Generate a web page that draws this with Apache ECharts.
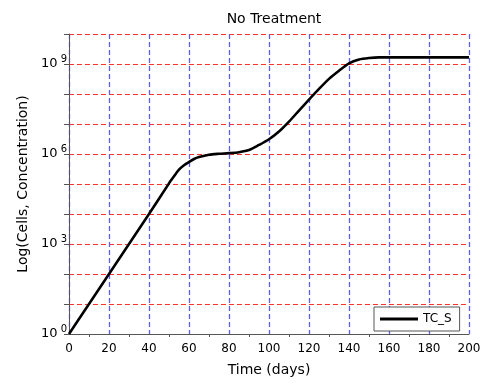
<!DOCTYPE html>
<html>
<head>
<meta charset="utf-8">
<script src="https://cdn.jsdelivr.net/npm/echarts@6/dist/echarts.min.js"></script>
<style>html,body{margin:0;padding:0;background:#fff}#c{width:486px;height:387px}</style>
</head>
<body>
<div id="c"></div>
<script>
// time (days)
var days = [0, 10, 20, 30, 40, 50, 52.5, 55, 57.5, 60, 62.5, 65, 70, 75, 80, 85, 90, 95, 100, 105, 110, 115, 120, 125, 130, 135, 140, 145, 150, 155, 160, 170, 180, 190, 200];
// TC_S cells concentration
var tcS = [1, 1e1, 1e2, 1e3, 1e4, 1.05e5, 1.8e5, 3.0e5, 4.2e5, 5.4e5, 6.8e5, 7.9e5, 9.5e5, 1.02e6, 1.07e6, 1.15e6, 1.35e6, 2.0e6, 3.1e6, 5.6e6, 1.2e7, 2.8e7, 6.5e7, 1.48e8, 3.2e8, 6.0e8, 1.05e9, 1.41e9, 1.58e9, 1.66e9, 1.66e9, 1.66e9, 1.66e9, 1.66e9, 1.66e9];
var labeledExps = [0, 3, 6, 9];

var font = 'DejaVu Sans';
var chart = echarts.init(document.getElementById('c'));
chart.setOption({
  animation: false,
  backgroundColor: '#fff',
  title: {
    text: 'No Treatment', left: 269, top: 7, textAlign: 'center',
    textStyle: {fontFamily: font, fontSize: 14, fontWeight: 'normal', color: '#000'}
  },
  grid: {left: 69, right: 17, top: 34, bottom: 53, containLabel: false},
  legend: {
    data: [{name: 'TC_S', icon: 'rect'}], left: 374, top: 307,
    itemWidth: 38, itemHeight: 3, itemGap: 6,
    borderColor: '#555', borderWidth: 1, backgroundColor: '#fff', borderRadius: 0,
    padding: [6, 8, 6, 6],
    textStyle: {fontFamily: font, fontSize: 12, color: '#000'}
  },
  xAxis: {
    type: 'value', min: 0, max: 200, interval: 20,
    name: 'Time (days)', nameLocation: 'middle', nameGap: 29,
    nameTextStyle: {fontFamily: font, fontSize: 14, color: '#000'},
    axisLine: {lineStyle: {color: '#555', width: 1}},
    axisTick: {show: false},
    minorTick: {show: true, splitNumber: 2, length: 3, lineStyle: {color: '#555'}},
    axisLabel: {fontFamily: font, fontSize: 12, color: '#000', margin: 9},
    splitLine: {show: true, lineStyle: {color: '#5c5cff', type: [5, 3], width: 1.3}}
  },
  yAxis: {
    type: 'log', logBase: 10, min: 1, max: 1e10, interval: 1,
    name: 'Log(Cells, Concentration)', nameLocation: 'middle', nameGap: 34,
    nameTextStyle: {fontFamily: font, fontSize: 14, color: '#000'},
    axisLine: {show: true, lineStyle: {color: '#555', width: 1}},
    axisTick: {show: true, inside: false, length: 5, lineStyle: {color: '#555'}},
    axisLabel: {
      margin: 2,
      formatter: function (v) {
        var e = Math.round(Math.log10(v));
        if (labeledExps.indexOf(e) < 0) return '';
        return '{b|10}{s|' + e + '}';
      },
      rich: {
        b: {fontFamily: font, fontSize: 13, color: '#000'},
        s: {fontFamily: font, fontSize: 10, color: '#000', padding: [0, 0, 10, 3]}
      }
    },
    splitLine: {show: true, lineStyle: {color: '#ff3030', type: [5, 3], width: 1.2}}
  },
  series: [{
    name: 'TC_S', type: 'line', symbol: 'none', smooth: 0.25,
    data: days.map(function (d, i) { return [d, tcS[i]]; }),
    lineStyle: {color: '#000', width: 2.6},
    itemStyle: {color: '#000'}
  }]
});
</script>
</body>
</html>
